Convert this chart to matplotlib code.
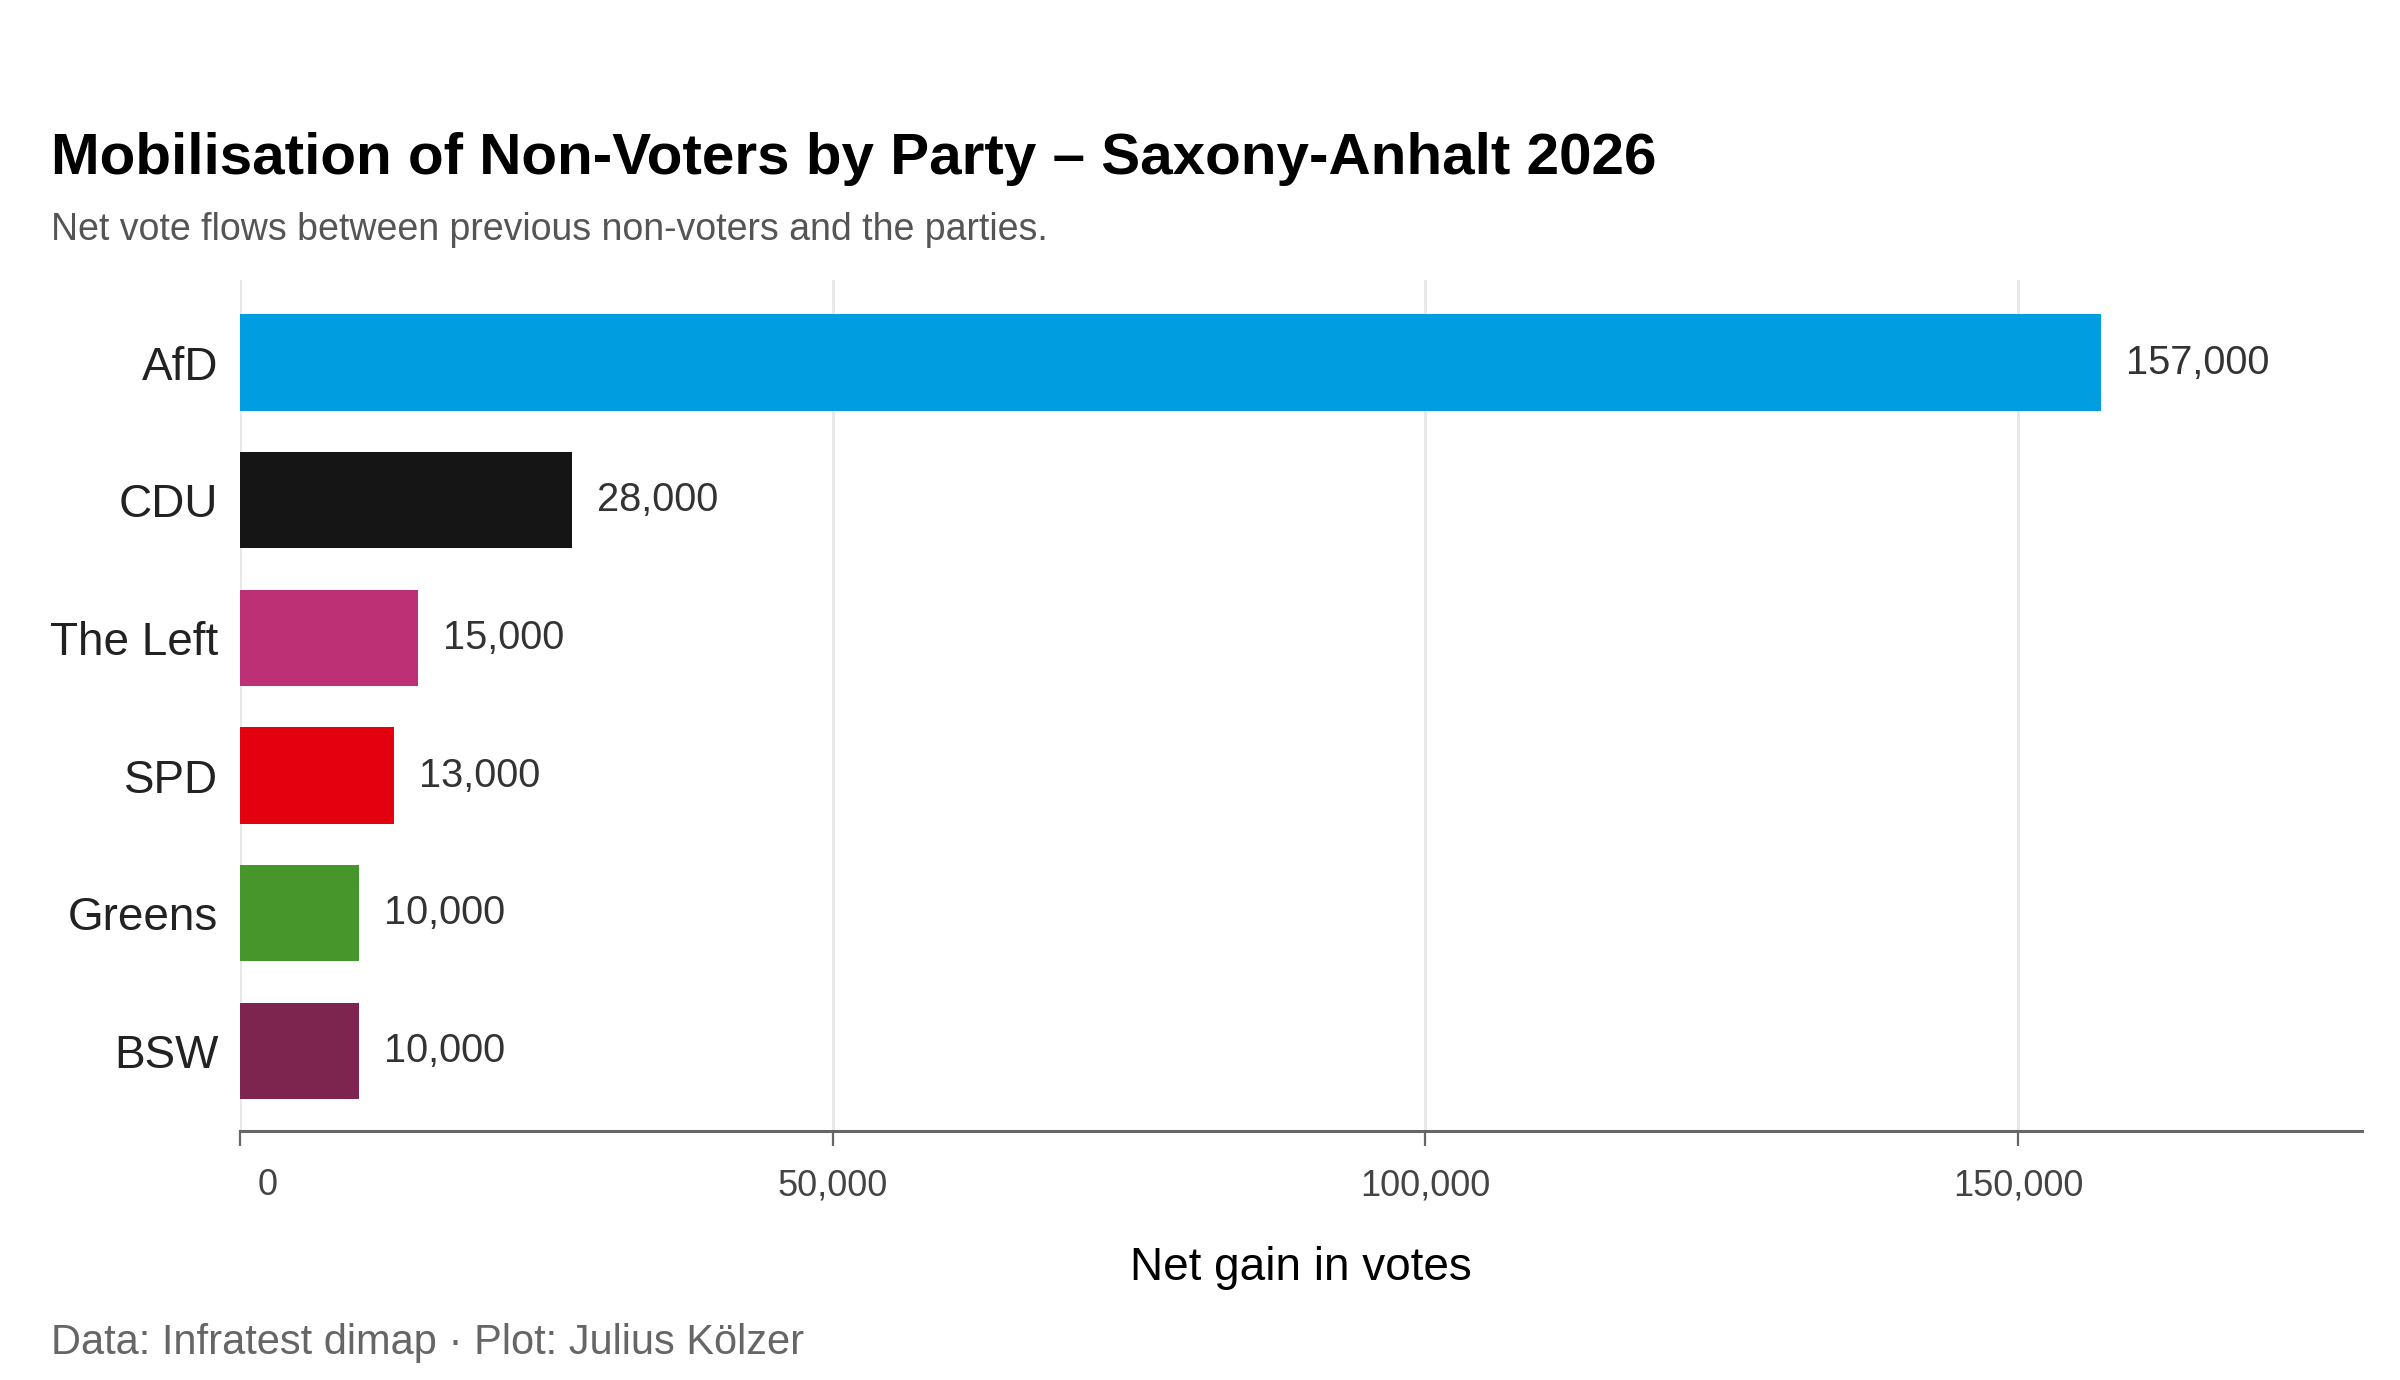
import matplotlib.pyplot as plt
import matplotlib.transforms as mtransforms
from matplotlib.ticker import FuncFormatter

# -----------------------------
# Data
# -----------------------------
parties = ["AfD", "CDU", "The Left", "SPD", "Greens", "BSW"]
net_gain = [157000, 28000, 15000, 13000, 10000, 10000]
colors = ["#009EE0", "#151515", "#BE3075", "#E3000F", "#46962B", "#7D254F"]
x_ticks = [0, 50000, 100000, 150000]

title = "Mobilisation of Non-Voters by Party \u2013 Saxony-Anhalt 2026"
subtitle = "Net vote flows between previous non-voters and the parties."
x_label = "Net gain in votes"
caption = "Data: Infratest dimap \u00b7 Plot: Julius K\u00f6lzer"

plt.rcParams["font.family"] = ["Liberation Sans", "DejaVu Sans"]

# -----------------------------
# Figure
# -----------------------------
fig = plt.figure(figsize=(12, 6.9), dpi=200)
ax = fig.add_axes([0.1, 0.1806, 0.884, 0.6165])

ypos = list(range(len(parties) - 1, -1, -1))
ax.barh(ypos, net_gain, height=0.7, color=colors, zorder=2)

for y, v in zip(ypos, net_gain):
    ax.annotate(f"{v:,}", xy=(v, y), xytext=(9, 0), textcoords="offset points",
                ha="left", va="center", fontsize=14.3, color="#333333")

ax.set_xlim(0, max(net_gain) * 1.14)
ax.set_ylim(-0.58, len(parties) - 1 + 0.6)

ax.set_yticks(ypos)
ax.set_yticklabels(parties, fontsize=16.5, color="#222222")
ax.tick_params(axis="y", length=0, pad=7.8)

ax.set_xticks(x_ticks)
ax.xaxis.set_major_formatter(FuncFormatter(lambda v, p: f"{int(v):,}"))
ax.tick_params(axis="x", length=5.5, width=0.8, color="#666666", pad=8,
               labelsize=13, labelcolor="#444444")
# the "0" label sits a little to the right of its tick
zero_lbl = ax.get_xticklabels()[0]
zero_lbl.set_transform(zero_lbl.get_transform() +
                       mtransforms.ScaledTranslation(10 / 72, 0, fig.dpi_scale_trans))

ax.grid(axis="x", color="#e8e8e8", linewidth=1.1, zorder=0)
ax.set_axisbelow(True)
for s in ["top", "right", "left"]:
    ax.spines[s].set_visible(False)
ax.spines["bottom"].set_color("#666666")
ax.spines["bottom"].set_linewidth(1.1)

# -----------------------------
# Titles and caption
# -----------------------------
fig.text(0.0212, 0.874, title, fontsize=21, fontweight="bold", color="black", va="baseline")
fig.text(0.0212, 0.826, subtitle, fontsize=13.5, color="#555555", va="baseline")
fig.text(0.542, 0.0725, x_label, fontsize=16.5, color="black", ha="center", va="baseline")
fig.text(0.0212, 0.019, caption, fontsize=15, color="#666666", va="baseline")

fig.savefig("out.png", dpi=200, facecolor="white")
